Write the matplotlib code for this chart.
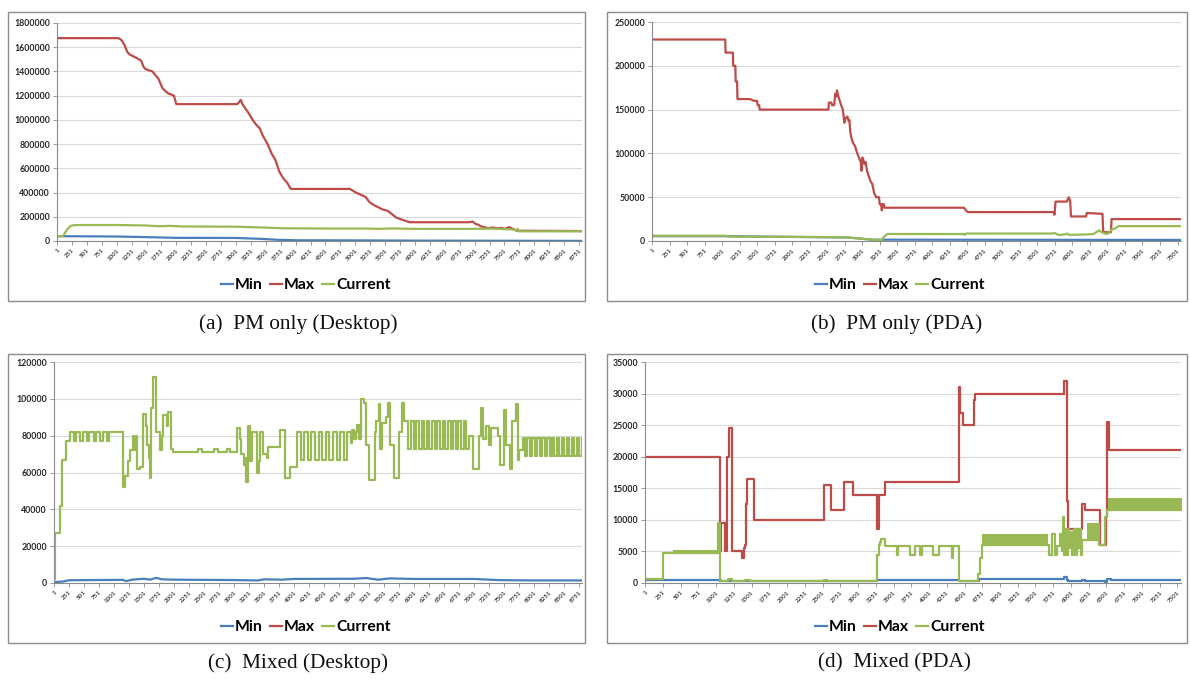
import matplotlib
matplotlib.use("Agg")
import matplotlib.pyplot as plt
from matplotlib.patches import Rectangle
from matplotlib.lines import Line2D

# ---------------------------------------------------------------- data
SERIES = ["Min", "Max", "Current"]
COLORS = {"Min": "#4A7EBB", "Max": "#BE4B48", "Current": "#98B954"}

CAPTIONS = ["(a)  PM only (Desktop)", "(b)  PM only (PDA)",
            "(c)  Mixed (Desktop)", "(d)  Mixed (PDA)"]

N_DESKTOP = 8800
N_PDA = 7550
XLABELS_DESKTOP = list(range(1, 8752, 250))
XLABELS_PDA = list(range(1, 7502, 250))

# (a) PM only, desktop -- polyline points (index, value)
A_MAX_X = [1, 1030, 1080, 1130, 1180, 1220, 1300, 1410, 1450, 1480, 1600, 1650,
           1700, 1770, 1860, 1960, 2000, 3020, 3060, 3080, 3120, 3150, 3220, 3280,
           3340, 3400, 3440, 3530, 3600, 3660, 3730, 3790, 3860, 3920, 4910, 5010,
           5100, 5170, 5240, 5300, 5380, 5460, 5540, 5620, 5680, 5760, 5850, 5910,
           6900, 6970, 7020, 7060, 7110, 7160, 7230, 7300, 7380, 7450, 7510, 7580,
           7640, 7710, 8800]
A_MAX_Y = [1675000, 1675000, 1660000, 1620000, 1560000, 1540000, 1520000, 1490000,
           1440000, 1420000, 1400000, 1370000, 1340000, 1260000, 1220000, 1200000,
           1130000, 1130000, 1150000, 1165000, 1120000, 1100000, 1050000, 1000000,
           960000, 930000, 880000, 800000, 720000, 670000, 570000, 520000, 480000,
           430000, 430000, 400000, 380000, 365000, 320000, 300000, 280000, 260000,
           250000, 220000, 195000, 180000, 165000, 155000, 155000, 160000, 140000,
           135000, 120000, 115000, 105000, 112000, 105000, 108000, 100000, 115000,
           100000, 85000, 82000]
A_CUR_X = [1, 100, 170, 230, 300, 1000, 1500, 1700, 1900, 2100, 3000, 3400, 3800,
           4500, 5200, 5400, 5600, 6000, 6900, 7300, 7500, 7640, 7700, 7720, 7740, 8800]
A_CUR_Y = [40000, 40000, 95000, 125000, 132000, 132000, 128000, 122000, 125000,
           120000, 118000, 112000, 105000, 103000, 103000, 100000, 104000, 100000,
           100000, 102000, 98000, 95000, 88000, 100000, 80000, 80000]
A_MIN_X = [1, 1000, 1500, 2000, 3000, 3400, 3700, 4000, 5000, 6000, 8800]
A_MIN_Y = [40000, 37000, 32000, 26000, 25000, 18000, 10000, 6000, 5000, 3000, 1000]

# (b) PM only, PDA -- polyline points
B_MAX_X = [1, 1046, 1050, 1155, 1160, 1190, 1195, 1215, 1220, 1400, 1455, 1500,
           1510, 1530, 1537, 2518, 2525, 2560, 2570, 2600, 2616, 2630, 2640, 2660,
           2680, 2700, 2725, 2745, 2760, 2790, 2805, 2818, 2830, 2845, 2870, 2900,
           2930, 2955, 2980, 2990, 3000, 3010, 3030, 3050, 3070, 3090, 3120, 3145,
           3170, 3200, 3240, 3250, 3270, 3280, 3290, 3310, 3315, 4453, 4480, 4507,
           5733, 5745, 5760, 5924, 5935, 5950, 5970, 5980, 6197, 6205, 6430, 6440,
           6550, 6560, 7550]
B_MAX_Y = [230000, 230000, 215000, 215000, 200000, 200000, 182000, 182000, 162000,
           162000, 160000, 160000, 155000, 155000, 150000, 150000, 158000, 158000,
           155000, 155000, 168000, 165000, 172000, 165000, 160000, 155000, 150000,
           135000, 140000, 142000, 137000, 138000, 125000, 118000, 112000, 108000,
           100000, 95000, 90000, 80000, 95000, 95000, 88000, 90000, 80000, 75000,
           68000, 65000, 55000, 50000, 50000, 42000, 42000, 35000, 42000, 42000,
           38000, 38000, 35000, 33000, 33000, 30000, 45000, 45000, 48000, 50000,
           45000, 28000, 28000, 32000, 31000, 10000, 10000, 25000, 25000]
B_CUR_X = [1, 1046, 1100, 2500, 2800, 3000, 3150, 3280, 3300, 3360, 4453, 4460,
           4480, 5700, 5750, 5800, 5900, 5920, 5950, 6200, 6300, 6380, 6420, 6480,
           6520, 6560, 6600, 6660, 7550]
B_CUR_Y = [6000, 6000, 5000, 4500, 4000, 2500, 1500, 1000, 4000, 8000, 8000, 7000,
           8500, 8500, 9000, 7000, 7500, 8500, 7000, 7500, 8000, 12000, 10000, 8000,
           9000, 13000, 14000, 17000, 17000]
B_MIN_X = [1, 1046, 2800, 3150, 3300, 7550]
B_MIN_Y = [5500, 5500, 4000, 1500, 1500, 1200]

# (c) Mixed, desktop -- step levels (start index, value)
C_CUR_X = [1, 15, 95, 130, 200, 260, 330, 370, 440, 480, 550, 590, 660, 700, 770,
           810, 880, 920, 1157, 1186, 1236, 1269, 1314, 1340, 1369, 1391, 1436, 1492,
           1536, 1558, 1580, 1603, 1625, 1648, 1703, 1770, 1798, 1815, 1882, 1904,
           1948, 1981, 2400, 2470, 2670, 2740, 2890, 2940, 3050, 3095, 3120, 3162,
           3185, 3206, 3234, 3273, 3301, 3385, 3412, 3440, 3485, 3552, 3574, 3763,
           3858, 3941, 4052, 4112, 4172, 4232, 4292, 4352, 4412, 4472, 4532, 4592,
           4652, 4712, 4772, 4832, 4892, 4952, 4970, 5000, 5027, 5055, 5080, 5110,
           5160, 5194, 5250, 5344, 5370, 5416, 5440, 5472, 5530, 5567, 5600, 5667,
           5756, 5806, 5835, 5862, 5906, 5950, 5994, 6038, 6082, 6126, 6170, 6214,
           6258, 6302, 6346, 6390, 6434, 6478, 6522, 6566, 6610, 6654, 6698, 6742,
           6786, 6830, 6874, 6920, 6990, 7085, 7114, 7150, 7197, 7250, 7292, 7400,
           7436, 7503, 7531, 7603, 7642, 7697, 7730, 7753, 7809, 7850, 7891, 7932,
           7973, 8014, 8055, 8096, 8137, 8178, 8219, 8260, 8301, 8342, 8383, 8424,
           8465, 8506, 8547, 8588, 8629, 8670, 8711, 8752, 8793, 8800]
C_CUR_Y = [2000, 27000, 42000, 67000, 77000, 82000, 77000, 82000, 77000, 82000,
           77000, 82000, 77000, 82000, 77000, 82000, 77000, 82000, 52000, 58000,
           66000, 72000, 80000, 72000, 80000, 62000, 63000, 92000, 85000, 75000,
           68000, 57000, 95000, 112000, 82000, 72000, 80000, 91000, 85000, 93000,
           73000, 71000, 73000, 71000, 73000, 71000, 73000, 71000, 84000, 78000,
           70000, 64000, 68000, 55000, 85000, 66000, 82000, 60000, 66000, 82000,
           70000, 68000, 74000, 83000, 57000, 63000, 82000, 67000, 82000, 67000,
           82000, 67000, 82000, 67000, 82000, 67000, 82000, 67000, 82000, 67000,
           82000, 76000, 83000, 78000, 82000, 86000, 78000, 100000, 98000, 75000,
           56000, 82000, 88000, 97000, 73000, 87000, 90000, 98000, 75000, 57000,
           82000, 98000, 88000, 88000, 73000, 88000, 73000, 88000, 73000, 88000,
           73000, 88000, 73000, 88000, 73000, 88000, 73000, 88000, 73000, 88000,
           73000, 88000, 73000, 88000, 73000, 88000, 73000, 80000, 62000, 80000,
           95000, 78000, 85000, 75000, 84000, 80000, 64000, 94000, 75000, 62000,
           88000, 97000, 67000, 72000, 79000, 69000, 79000, 69000, 79000, 69000,
           79000, 69000, 79000, 69000, 79000, 69000, 79000, 69000, 79000, 69000,
           79000, 69000, 79000, 69000, 79000, 69000, 79000, 69000, 79000, 79000]
C_MIN_X = [1, 150, 250, 1150, 1200, 1300, 1500, 1600, 1700, 1800, 2000, 3000, 3400,
           3500, 3800, 4000, 5000, 5200, 5400, 5600, 6000, 7000, 7400, 7600, 8000, 8800]
C_MIN_Y = [500, 800, 1500, 1700, 1000, 1800, 2300, 1800, 2800, 2000, 1800, 1600,
           1400, 2000, 1800, 2200, 2300, 2700, 1800, 2500, 2200, 2200, 1600, 1500,
           1400, 1400]

# (d) Mixed, PDA -- step levels (start index, value)
D_MAX_X = [1, 1058, 1065, 1128, 1160, 1180, 1230, 1363, 1396, 1410, 1424, 1434,
           1530, 2520, 2622, 2810, 2933, 3275, 3290, 3375, 4420, 4435, 4480, 4640,
           4655, 5898, 5940, 5955, 6160, 6194, 6403, 6492, 6510, 6533, 7550]
D_MAX_Y = [20000, 5000, 9500, 5000, 20000, 24500, 5000, 4000, 5500, 6000, 12500,
           16500, 10000, 15500, 11500, 16000, 14000, 8500, 14000, 16000, 31000, 27000,
           25000, 29000, 30000, 32000, 13000, 8500, 12500, 11500, 6000, 10500, 25500,
           21000, 21000]
D_CUR_X = [1, 250, 400, 1034, 1058, 1075, 1170, 1220, 1410, 1480, 2520, 2560, 3267,
           3290, 3304, 3323, 3384, 3549, 3570, 3737, 3807, 3880, 3896, 4057, 4136,
           4320, 4335, 4418, 4690, 4714, 4748, 5664, 5690, 5740, 5770, 5800, 5840,
           5870, 5884, 5898, 5915, 5930, 5960, 5975, 6000, 6020, 6050, 6065, 6090,
           6100, 6125, 6140, 6157, 6391, 6486, 6505, 6519, 7550]
D_CUR_Y = [700, 4800, 4800, 9500, 500, 300, 700, 300, 500, 300, 500, 300, 4500,
           6000, 6500, 7000, 5800, 4500, 5800, 4500, 5800, 4500, 5800, 4500, 5800,
           4000, 5800, 300, 1500, 4000, 6000, 6000, 4500, 7700, 4500, 5800, 7700,
           5000, 10500, 4500, 8500, 4500, 8500, 5500, 8000, 4500, 8500, 4500, 8500,
           5500, 8500, 4500, 6800, 6000, 10500, 11500, 11500, 11500]
# ranges where the current value flips rapidly between two levels
D_CUR_BANDS = [(400, 1034, 4800, 5300), (4748, 5664, 6000, 7700),
               (6227, 6391, 6800, 9500), (6519, 7550, 11500, 13500)]
D_MIN_X = [1, 1058, 3270, 4418, 4700, 5898, 5946, 5960, 6150, 6200, 6486, 6514,
           6560, 7550]
D_MIN_Y = [500, 300, 400, 350, 700, 900, 400, 300, 400, 250, 200, 600, 500, 500]

# ---------------------------------------------------------------- figure
W, H = 1190, 681
fig = plt.figure(figsize=(W / 100, H / 100), dpi=100)
fig.patch.set_facecolor("white")

TICK_FONT = "Lato"
LW = 1.6


def fx(x):
    return x / W


def fy(y):
    return 1 - y / H


def add_axes_px(x0, y0, x1, y1):
    return fig.add_axes([fx(x0), fy(y1), (x1 - x0) / W, (y1 - y0) / H])


def frame_px(x0, y0, x1, y1):
    fig.patches.append(Rectangle((fx(x0), fy(y1)), (x1 - x0) / W, (y1 - y0) / H,
                                 transform=fig.transFigure, fill=False,
                                 edgecolor="#8A8A8A", linewidth=1.0))


def style(ax, n, ymax, ystep, xlabels):
    ax.set_xlim(0.5, n + 0.5)
    ax.set_ylim(0, ymax)
    yt = list(range(0, ymax + 1, ystep))
    ax.set_yticks(yt)
    ax.set_yticklabels([str(v) for v in yt], fontsize=6.3, fontfamily=TICK_FONT,
                       fontweight="bold", color="#262626")
    ax.set_xticks(xlabels)
    ax.set_xticklabels([str(v) for v in xlabels], rotation=45, ha="right",
                       rotation_mode="anchor", fontsize=4.5, fontfamily=TICK_FONT,
                       fontweight="bold", color="#404040")
    ax.tick_params(axis="y", length=3, width=0.6, color="#8A8A8A", pad=2)
    ax.tick_params(axis="x", length=3, width=0.6, color="#8A8A8A", pad=2)
    ax.grid(axis="y", color="#D9D9D9", linewidth=0.8)
    ax.set_axisbelow(True)
    for s in ("top", "right"):
        ax.spines[s].set_visible(False)
    for s in ("left", "bottom"):
        ax.spines[s].set_color("#8A8A8A")
        ax.spines[s].set_linewidth(0.8)


def legend_at(cx, cy):
    handles = [Line2D([], [], color=COLORS[s], lw=1.6) for s in SERIES]
    fig.legend(handles, SERIES, loc="center", bbox_to_anchor=(fx(cx), fy(cy)),
               ncol=3, frameon=False, handlelength=0.75, handletextpad=0.15,
               columnspacing=0.45, prop={"family": TICK_FONT, "weight": "bold",
                                          "size": 11.3})


def caption_at(cx, cy, text):
    fig.text(fx(cx), fy(cy), text, ha="center", va="center",
             fontfamily="Liberation Serif", fontsize=15.3, color="#111111")


# (a)
frame_px(8, 12, 585, 301)
ax = add_axes_px(57, 23, 582, 241)
style(ax, N_DESKTOP, 1800000, 200000, XLABELS_DESKTOP)
ax.plot(A_MIN_X, A_MIN_Y, color=COLORS["Min"], lw=LW)
ax.plot(A_MAX_X, A_MAX_Y, color=COLORS["Max"], lw=LW)
ax.plot(A_CUR_X, A_CUR_Y, color=COLORS["Current"], lw=LW)
legend_at(306, 285)
caption_at(298, 324, CAPTIONS[0])

# (b)
frame_px(607, 12, 1187, 301)
ax = add_axes_px(652, 22, 1181, 241)
style(ax, N_PDA, 250000, 50000, XLABELS_PDA)
ax.plot(B_MIN_X, B_MIN_Y, color=COLORS["Min"], lw=LW)
ax.plot(B_MAX_X, B_MAX_Y, color=COLORS["Max"], lw=LW)
ax.plot(B_CUR_X, B_CUR_Y, color=COLORS["Current"], lw=LW)
legend_at(900, 285)
caption_at(897, 324, CAPTIONS[1])

# (c)
frame_px(8, 354, 585, 643)
ax = add_axes_px(54, 362, 582, 583)
style(ax, N_DESKTOP, 120000, 20000, XLABELS_DESKTOP)
ax.plot(C_MIN_X, C_MIN_Y, color=COLORS["Min"], lw=LW)
ax.step(C_CUR_X, C_CUR_Y, where="post", color=COLORS["Current"], lw=LW)
legend_at(306, 627)
caption_at(298, 663, CAPTIONS[2])

# (d)
frame_px(607, 354, 1187, 643)
ax = add_axes_px(645, 362, 1181, 583)
style(ax, N_PDA, 35000, 5000, XLABELS_PDA)
ax.step(D_MIN_X, D_MIN_Y, where="post", color=COLORS["Min"], lw=LW)
ax.step(D_MAX_X, D_MAX_Y, where="post", color=COLORS["Max"], lw=LW)
ax.step(D_CUR_X, D_CUR_Y, where="post", color=COLORS["Current"], lw=LW)
for x0, x1, lo, hi in D_CUR_BANDS:
    ax.fill_between([x0, x1], [lo, lo], [hi, hi], color=COLORS["Current"],
                    linewidth=0.8, edgecolor=COLORS["Current"], zorder=3)
legend_at(900, 627)
caption_at(894, 663, CAPTIONS[3])

fig.savefig("out.png", dpi=100, facecolor="white")
